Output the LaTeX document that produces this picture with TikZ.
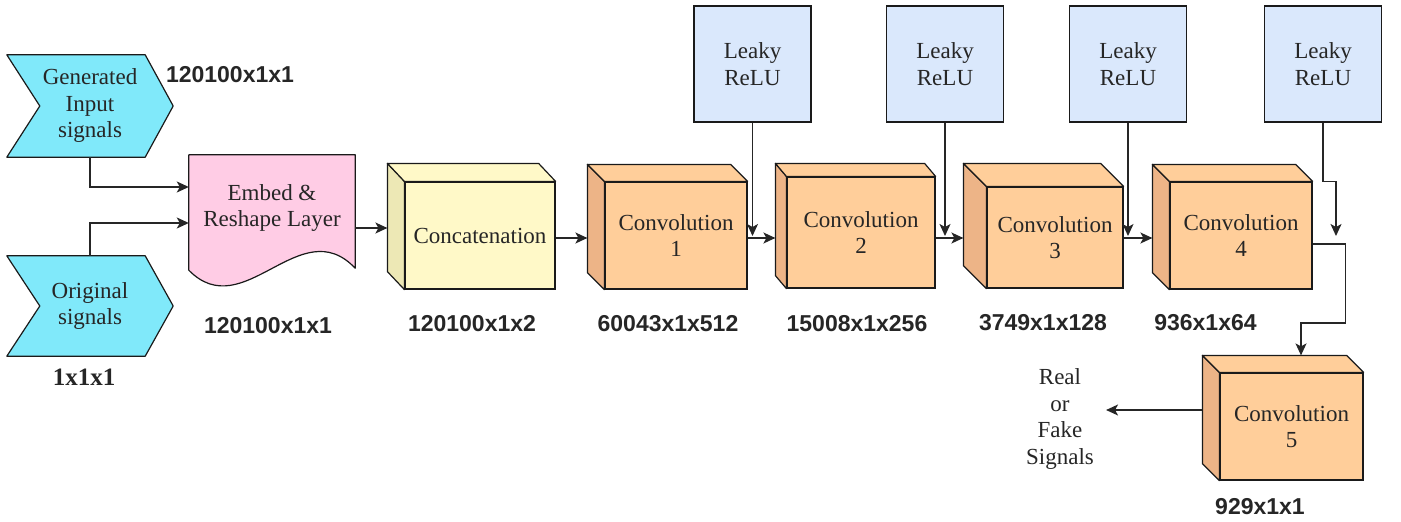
\documentclass[tikz,border=0pt]{standalone}
\usepackage{fontspec}
\setmainfont{Liberation Serif}
\newfontfamily\labelfont{Liberation Sans}
\usetikzlibrary{arrows.meta,calc,backgrounds}

\definecolor{cyanfill}{HTML}{80E9FA}
\definecolor{pinkfill}{HTML}{FFCCE5}
\definecolor{creamfront}{HTML}{FFF9C8}
\definecolor{creamside}{HTML}{EDE8B5}
\definecolor{orangefront}{HTML}{FFCE9A}
\definecolor{orangeside}{HTML}{EDB487}
\definecolor{bluefill}{HTML}{DAE8FC}
\definecolor{ink}{HTML}{262626}
\definecolor{edge}{HTML}{1A1A1A}

% side and top faces of a box whose front face is node #1
% #2, #3: depth offsets; #4: side colour; #5: top colour
\newcommand\cubefaces[5]{%
  \filldraw[fill=#4, draw=edge, line width=1.2pt, line join=round]
    (#1.north west) -- ++(-#2,-#3) -- ($(#1.south west)+(-#2,-#3)$) -- (#1.south west) -- cycle;
  \filldraw[fill=#5, draw=edge, line width=1.2pt, line join=round]
    (#1.north west) -- ++(-#2,-#3) -- ($(#1.north east)+(-#2,-#3)$) -- (#1.north east) -- cycle;
  \coordinate (#1b) at ($(#1.north west)+(-#2,-#3)$);
}

\tikzset{
  txt/.style={font=\fontsize{23}{26.5}\selectfont, text=ink, align=center},
  lbl/.style={font=\labelfont\bfseries\fontsize{23}{27}\selectfont, text=ink},
  face/.style={txt, draw=edge, line width=1.2pt, inner sep=0pt},
  leakybox/.style={face, fill=bluefill, minimum width=117pt, minimum height=116pt},
  convfront/.style={face, fill=orangefront},
  holder/.style={txt, inner sep=0pt},
  arr/.style={-{Stealth[length=12pt,width=11pt,inset=3pt]}, line width=1.4pt, draw=ink},
}

\begin{document}
\begin{tikzpicture}[x=1pt, y=-1pt]
\useasboundingbox (0,0) rectangle (1401,522);

% guide rows for the horizontal connectors
\coordinate (r1) at (0,228);
\coordinate (r2) at (0,238);
\coordinate (r3) at (0,236);

% inputs
\node[holder, minimum width=166pt, minimum height=102pt] (gen) at (90,106) {Generated\\Input\\signals};
\node[holder, minimum width=166pt, minimum height=100pt] (orig) at (90,306) {Original\\signals};
\begin{scope}[on background layer]
  \foreach \n in {gen,orig}{
    \filldraw[fill=cyanfill, draw=edge, line width=1.2pt, line join=round]
      (\n.north west) -- ($(\n.north east)+(-28,0)$) -- (\n.east)
      -- ($(\n.south east)+(-28,0)$) -- (\n.south west) -- ($(\n.west)+(33,0)$) -- cycle;
  }
\end{scope}

% embedding layer (document shape)
\node[holder, minimum width=166pt, minimum height=106pt] (embed) at (272,208) {Embed \&\\Reshape Layer};
\begin{scope}[on background layer]
  \filldraw[fill=pinkfill, draw=edge, line width=1.2pt, line join=round]
    (embed.north west) -- (embed.north east) -- ($(embed.south east)+(0,7)$)
    .. controls ($(embed.south east)+(-55,-51)$) and ($(embed.south west)+(55,65)$)
    .. ($(embed.south west)+(0,9)$) -- cycle;
\end{scope}

% concatenation and convolution blocks
\node[face, fill=creamfront, minimum width=150pt, minimum height=107pt] (concat) at (480,235.5) {Concatenation};
\cubefaces{concat}{17}{18}{creamside}{creamfront}

\node[convfront, minimum width=142pt, minimum height=107pt] (conv1) at (676,235.5) {Convolution\\1};
\cubefaces{conv1}{17}{17}{orangeside}{orangefront}

\node[convfront, minimum width=148pt, minimum height=111pt] (conv2) at (861,232.5) {Convolution\\2};
\cubefaces{conv2}{11}{13}{orangeside}{orangefront}

\node[convfront, minimum width=136pt, minimum height=101pt] (conv3) at (1055,237.5) {Convolution\\3};
\cubefaces{conv3}{23}{23}{orangeside}{orangefront}

\node[convfront, minimum width=142pt, minimum height=107pt] (conv4) at (1241,235.5) {Convolution\\4};
\cubefaces{conv4}{17}{17}{orangeside}{orangefront}

\node[convfront, minimum width=143pt, minimum height=107pt] (conv5) at (1291.5,426.5) {Convolution\\5};
\cubefaces{conv5}{17}{17}{orangeside}{orangefront}

% activations
\node[leakybox] (leaky1) at (752.5,64) {Leaky\\ReLU};
\node[leakybox] (leaky2) at (945,64) {Leaky\\ReLU};
\node[leakybox] (leaky3) at (1128,64) {Leaky\\ReLU};
\node[leakybox] (leaky4) at (1323,64) {Leaky\\ReLU};

% output text
\node[txt, inner xsep=12pt] (out) at (1060,419) {Real\\or\\Fake\\Signals};

% tensor sizes
\node[lbl] (sgen) at (230,75) {120100x1x1};
\node[txt, font=\bfseries\fontsize{25}{30}\selectfont] (sorig) at (84,377) {1x1x1};
\node[lbl] (sembed) at (268,326) {120100x1x1};
\node[lbl] (sconcat) at (472,324) {120100x1x2};
\node[lbl] (sconv1) at (668,324) {60043x1x512};
\node[lbl] (sconv2) at (857,324) {15008x1x256};
\node[lbl] (sconv3) at (1043,323) {3749x1x128};
\node[lbl] (sconv4) at (1205.5,323) {936x1x64};
\node[lbl] (sconv5) at (1260,507) {929x1x1};

% connectors
\draw[arr] (gen.south) |- ($(embed.west)+(0,-21)$);
\draw[arr] (orig.north) |- ($(embed.west)+(0,15)$);
\draw[arr] (embed.east |- r1) -- (concatb |- r1);
\draw[arr] (concat.east |- r2) -- (conv1b |- r2);
\draw[arr] (conv1.east |- r2) -- (conv2b |- r2);
\draw[arr] (conv2.east |- r2) -- (conv3b |- r2);
\draw[arr] (conv3.east |- r2) -- (conv4b |- r2);

\draw[arr] (leaky1.south) -- (leaky1.south |- r3);
\draw[arr] (leaky2.south) -- (leaky2.south |- r3);
\draw[arr] (leaky3.south) -- (leaky3.south |- r3);
\draw[arr] (leaky4.south) -- ++(0,59) -| ($(leaky4.south |- r3)+(13,0)$);

\coordinate (c5top) at ($(conv5.north)+(9.5,-17)$);
\draw[arr] ($(conv5.west)+(-17,-16.5)$) -- (out.east |- {$(conv5.west)+(0,-16.5)$});
\draw[arr] ($(conv4.east)+(0,8.5)$) -- ++(33,0) -- ++(0,79) -| (c5top);
\end{tikzpicture}
\end{document}
